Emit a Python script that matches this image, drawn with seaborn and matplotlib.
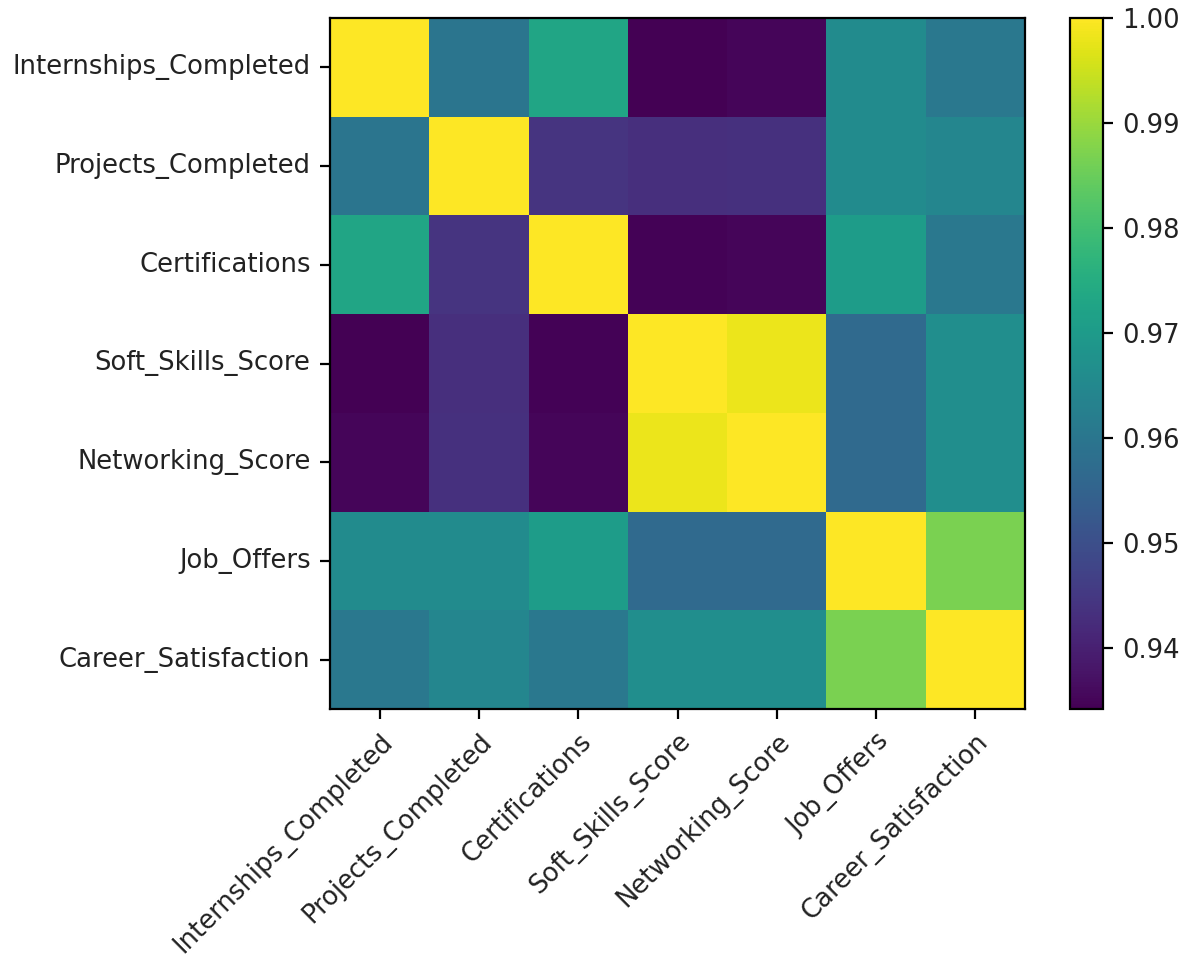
import numpy as np
import pandas as pd
import matplotlib
matplotlib.use("Agg")
import matplotlib.pyplot as plt
import seaborn as sns

labels = ["Internships_Completed", "Projects_Completed", "Certifications",
          "Soft_Skills_Score", "Networking_Score", "Job_Offers",
          "Career_Satisfaction"]

# Pairwise correlation coefficients, one row per variable
internships = [1.0000, 0.9599, 0.9730, 0.9342, 0.9352, 0.9658, 0.9605]
projects    = [0.9599, 1.0000, 0.9441, 0.9430, 0.9432, 0.9658, 0.9645]
certs       = [0.9730, 0.9441, 1.0000, 0.9345, 0.9352, 0.9704, 0.9605]
soft_skills = [0.9342, 0.9430, 0.9345, 1.0000, 0.9980, 0.9566, 0.9665]
networking  = [0.9352, 0.9432, 0.9352, 0.9980, 1.0000, 0.9566, 0.9665]
job_offers  = [0.9658, 0.9658, 0.9704, 0.9566, 0.9566, 1.0000, 0.9868]
career_sat  = [0.9605, 0.9645, 0.9605, 0.9665, 0.9665, 0.9868, 1.0000]

corr = pd.DataFrame([internships, projects, certs, soft_skills, networking,
                     job_offers, career_sat], index=labels, columns=labels)

fig = plt.figure(figsize=(5.94, 4.79), dpi=200)
ax = fig.add_axes([330 / 1188, 249 / 958, 695 / 1188, 691 / 958])
cax = fig.add_axes([1070 / 1188, 249 / 958, 33 / 1188, 691 / 958])

sns.heatmap(corr, cmap="viridis", ax=ax, cbar_ax=cax, square=False,
            linewidths=0)

# Frame and ticks in the plain matplotlib look
for s in ax.spines.values():
    s.set_visible(True)
    s.set_linewidth(0.8)
    s.set_color("black")
ax.tick_params(axis="both", length=3.5, width=0.8, labelsize=9.3,
               color="black", labelcolor="#222222")
ax.set_xticklabels(labels, rotation=45, ha="right", rotation_mode="anchor")
ax.set_yticklabels(labels, rotation=0)
ax.set_xlabel("")
ax.set_ylabel("")

cbar = ax.collections[0].colorbar
cbar.outline.set_linewidth(0.8)
cbar.outline.set_edgecolor("black")
cbar.set_ticks([0.94, 0.95, 0.96, 0.97, 0.98, 0.99, 1.00])
cbar.ax.yaxis.set_major_formatter(matplotlib.ticker.FormatStrFormatter("%.2f"))
cax.tick_params(length=3.5, width=0.8, labelsize=9.3, labelcolor="#222222")

fig.savefig("out.png", dpi=200)
